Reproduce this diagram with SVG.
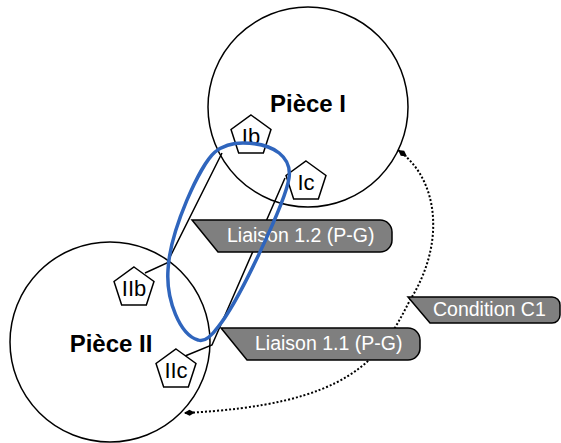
<svg xmlns="http://www.w3.org/2000/svg" width="561" height="443" viewBox="0 0 561 443">
<style>
.part{fill:#fff;stroke:#000;stroke-width:1.5}
.pent{fill:#fff;stroke:#000;stroke-width:1.5}
.ptxt{font-family:"Liberation Sans",Arial,sans-serif;font-size:22px;fill:#000;text-anchor:middle}
.big{font-family:"Liberation Sans",Arial,sans-serif;font-size:24px;font-weight:bold;fill:#000;text-anchor:middle}
.tag{fill:#7f7f7f;stroke:#000;stroke-width:1.5}
.ttxt{font-family:"Liberation Sans",Arial,sans-serif;font-size:19.5px;fill:#fff}
.link{fill:none;stroke:#000;stroke-width:1.5}
.dot{fill:none;stroke:#000;stroke-width:2;stroke-dasharray:2 2}
.loop{fill:none;stroke:#2f65bd;stroke-width:3.5}
</style>
<defs>
<polygon id="pent" points="0,-21 19.97,-6.49 12.34,16.99 -12.34,16.99 -19.97,-6.49"/>
<marker id="dia" markerUnits="userSpaceOnUse" markerWidth="12" markerHeight="8" viewBox="0 -4 12 8" refX="11" refY="0" orient="auto-start-reverse">
<path d="M0,0 L5.5,-3 L11,0 L5.5,3 Z" fill="#000"/>
</marker>
</defs>
<g id="piece1"><circle class="part" cx="308" cy="107" r="100"/><text class="big" x="308" y="112">Pièce I</text></g>
<g id="piece2"><circle class="part" cx="110" cy="342" r="100"/><text class="big" x="111" y="352">Pièce II</text></g>
<g id="connectors">
<polyline class="link" points="222,153 167,263 145,273"/>
<polyline class="link" points="285,178 212,345 185,356"/>
<path class="dot" d="M398,150 C440,180 445,245 410,300 C380,360 350,405 184,413" marker-start="url(#dia)" marker-end="url(#dia)"/>
</g>
<g id="Ib"><use href="#pent" class="pent" x="251" y="136"/><text class="ptxt" x="251" y="144">Ib</text></g>
<g id="Ic"><use href="#pent" class="pent" x="306" y="182"/><text class="ptxt" x="306" y="190">Ic</text></g>
<g id="IIb"><use href="#pent" class="pent" x="134" y="288"/><text class="ptxt" x="134" y="296">IIb</text></g>
<g id="IIc"><use href="#pent" class="pent" x="176" y="370"/><text class="ptxt" x="176" y="378">IIc</text></g>
<g id="liaison12"><path class="tag" d="M192,220 H380 A12,12 0 0 1 392,232 V240 A12,12 0 0 1 380,252 H218 Z"/><text class="ttxt" x="227" y="242">Liaison 1.2 (P-G)</text></g>
<g id="liaison11"><path class="tag" d="M221,328 H408 A12,12 0 0 1 420,340 V348 A12,12 0 0 1 408,360 H247 Z"/><text class="ttxt" x="255" y="350">Liaison 1.1 (P-G)</text></g>
<g id="conditionC1"><path class="tag" d="M408,297 H552 A8,8 0 0 1 560,305 V315 A8,8 0 0 1 552,323 H430 Z"/><text class="ttxt" x="433" y="316">Condition C1</text></g>
<g id="loop"><path class="loop" d="M243,143 C275,143 292,158 289,178 C286,200 240,300 218,327 C210,338 203,342 198,340 C180,335 166,300 168,270 C170,230 200,165 215,152 C225,144 235,143 243,143 Z"/></g>
</svg>
